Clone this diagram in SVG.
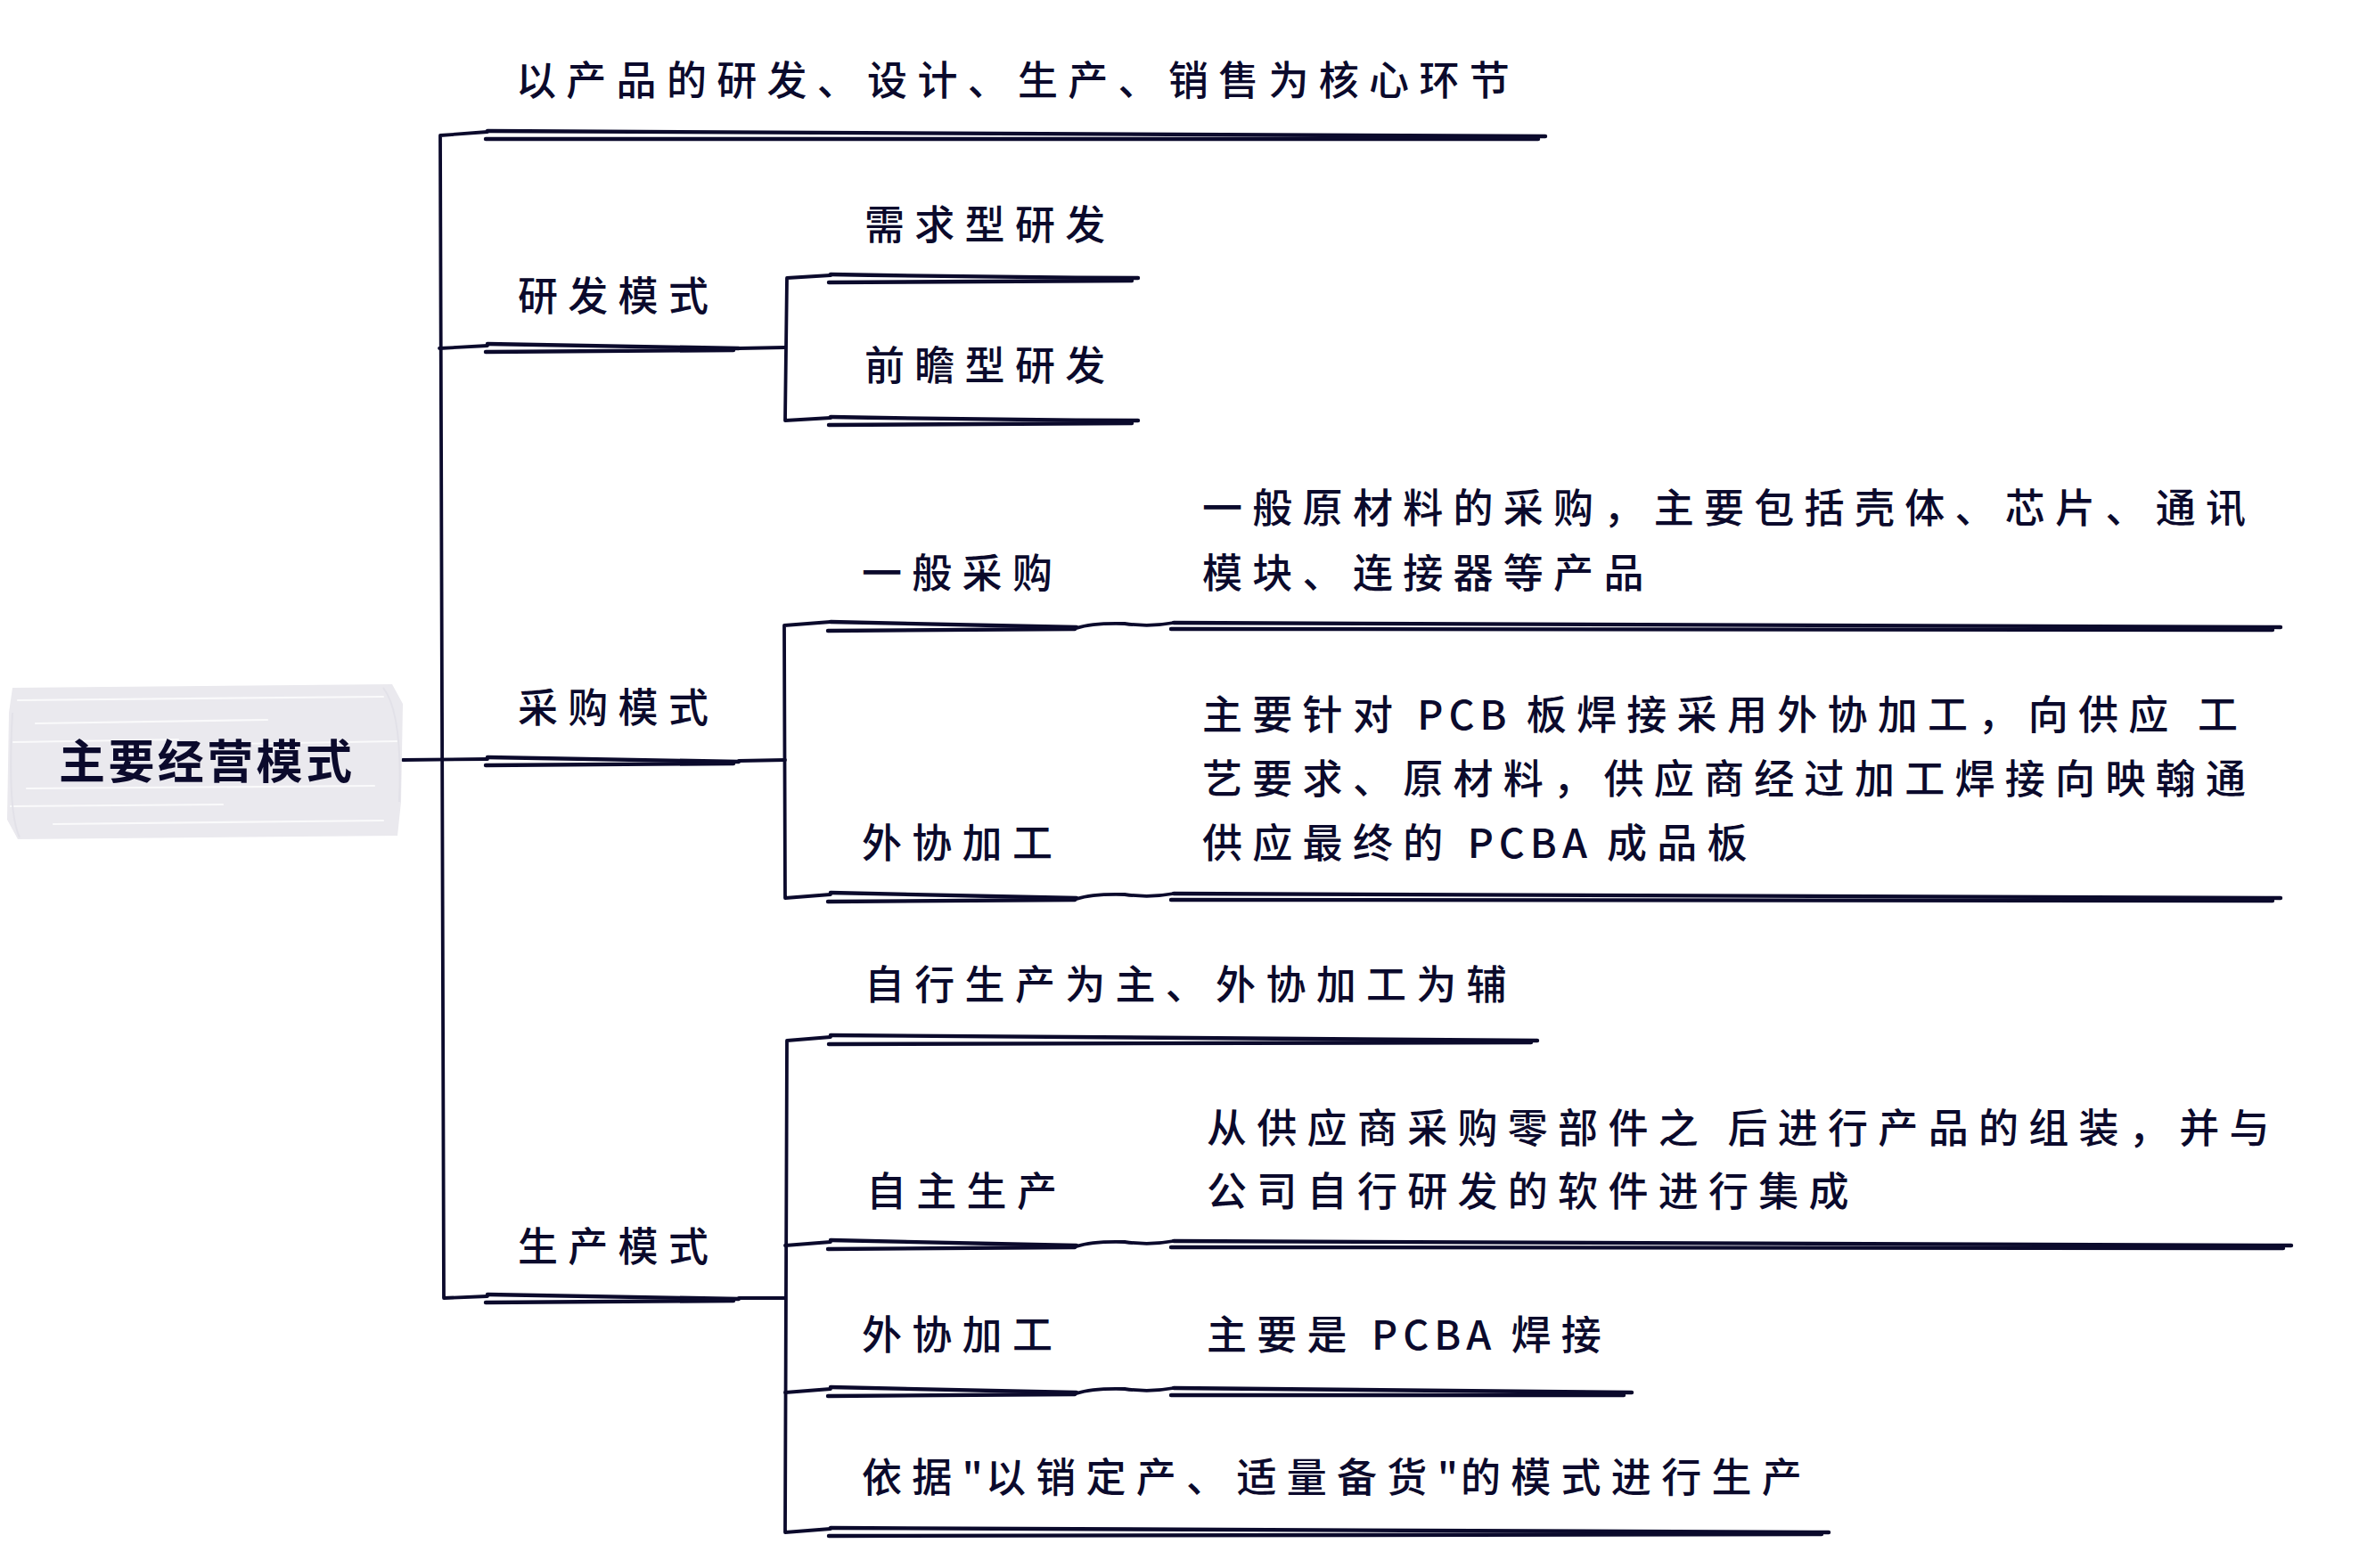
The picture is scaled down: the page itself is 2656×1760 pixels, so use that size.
<svg xmlns="http://www.w3.org/2000/svg" width="2656" height="1760" viewBox="0 0 2656 1760">
<style>
.t{font-family:"Noto Sans CJK SC","Noto Sans",sans-serif;font-size:45px;font-weight:500;fill:#0b0a2c;letter-spacing:11.3px}
.l{letter-spacing:6px}
.q{letter-spacing:3px}
.b{font-family:"Noto Sans CJK SC","Noto Sans",sans-serif;font-size:52px;font-weight:700;fill:#0b0a2c;letter-spacing:3.4px}
.u{stroke:#0b0a2c;stroke-width:4.4;fill:none;stroke-linecap:round;stroke-linejoin:round}
.c{stroke:#0b0a2c;stroke-width:3.8;fill:none;stroke-linecap:round;stroke-linejoin:round}
.s{stroke:#ffffff;stroke-width:2.2;fill:none;stroke-linecap:round;opacity:.75}
</style>
<rect width="2656" height="1760" fill="#ffffff"/>
<g id="connectors">
<path class="c" d="M 547,148 L 494,152 L 496,800 L 498,1457 L 547,1455"/>
<path class="c" d="M 493,391 L 547,388"/>
<path class="c" d="M 829,391 L 881,390"/>
<path class="c" d="M 452,853 L 547,852"/>
<path class="c" d="M 829,854 L 881,853"/>
<path class="c" d="M 829,1457 L 881,1457"/>
<path class="c" d="M 932,309 L 883,312 L 881,472 L 932,469"/>
<path class="c" d="M 932,698 L 880,702 L 881,1008 L 932,1004"/>
<path class="c" d="M 932,1164 L 883,1168 L 881,1720 L 932,1716"/>
<path class="c" d="M 881,1398 L 932,1394"/>
<path class="c" d="M 881,1563 L 932,1559"/>
<path class="c" d="M 1208,705 Q 1226,699 1262,700 Q 1290,704 1317,699"/>
<path class="c" d="M 1208,1009 Q 1226,1003 1262,1004 Q 1290,1008 1317,1003"/>
<path class="c" d="M 1208,1399 Q 1226,1393 1262,1394 Q 1290,1398 1317,1393"/>
<path class="c" d="M 1208,1564 Q 1226,1558 1262,1559 Q 1290,1563 1317,1558"/>
</g>
<g id="node-root">
<path d="M 14,772 L 440,768 L 452,790 L 450,900 L 446,938 L 20,942 L 8,920 L 10,800 Z" fill="#eae9ee"/>
<path class="s" d="M 20,786 L 430,782"/>
<path class="s" d="M 40,812 L 300,808"/>
<path class="s" d="M 15,833 L 200,830"/>
<path class="s" d="M 260,835 L 445,832"/>
<path class="s" d="M 30,885 L 420,882"/>
<path class="s" d="M 12,905 L 250,903"/>
<path class="s" d="M 60,925 L 430,921"/>
<path d="M 430,772 Q 452,800 448,900 M 22,940 Q 8,910 14,800" stroke="#e2e1e8" stroke-width="2" fill="none"/>
<text class="b" x="66" y="874">主要经营模式</text>
</g>
<g id="node-core">
<text class="t" x="579" y="107">以产品的研发、设计、生产、销售为核心环节</text>
<path class="u" d="M 547,147 Q 1100,150 1734,153"/>
<path class="u" d="M 545,156 Q 1100,156 1726,156"/>
</g>
<g id="node-rd">
<text class="t" x="581" y="349">研发模式</text>
<path class="u" d="M 547,386 Q 690,389 829,391"/>
<path class="u" d="M 545,395 Q 690,394 823,393"/>
</g>
<g id="node-rd-1">
<text class="t" x="970" y="269">需求型研发</text>
<path class="u" d="M 932,308 Q 1100,311 1277,312"/>
<path class="u" d="M 930,317 Q 1100,316 1270,315"/>
</g>
<g id="node-rd-2">
<text class="t" x="970" y="427">前瞻型研发</text>
<path class="u" d="M 932,468 Q 1100,471 1277,472"/>
<path class="u" d="M 930,477 Q 1100,476 1270,475"/>
</g>
<g id="node-pur">
<text class="t" x="581" y="811">采购模式</text>
<path class="u" d="M 547,850 Q 690,853 829,855"/>
<path class="u" d="M 545,859 Q 690,858 823,857"/>
</g>
<g id="node-pur-1">
<text class="t" x="967" y="660">一般采购</text>
<path class="u" d="M 932,698 Q 1070,701 1208,704"/>
<path class="u" d="M 929,708 Q 1070,707 1206,706"/>
</g>
<g id="node-pur-1-d">
<text class="t" x="1349" y="587">一般原材料的采购，主要包括壳体、芯片、通讯</text>
<text class="t" x="1349" y="660">模块、连接器等产品</text>
<path class="u" d="M 1317,699 Q 1900,701 2559,704"/>
<path class="u" d="M 1314,706 Q 1900,707 2550,707"/>
</g>
<g id="node-pur-2">
<text class="t" x="967" y="963">外协加工</text>
<path class="u" d="M 932,1002 Q 1070,1005 1208,1008"/>
<path class="u" d="M 929,1012 Q 1070,1011 1206,1010"/>
</g>
<g id="node-pur-2-d">
<text class="t" x="1349" y="819">主要针对<tspan class="l"> PCB </tspan>板焊接采用外协加工，向供应 工</text>
<text class="t" x="1349" y="891">艺要求、原材料，供应商经过加工焊接向映翰通</text>
<text class="t" x="1349" y="963">供应最终的<tspan class="l"> PCBA </tspan>成品板</text>
<path class="u" d="M 1317,1003 Q 1900,1005 2559,1008"/>
<path class="u" d="M 1314,1010 Q 1900,1011 2550,1011"/>
</g>
<g id="node-pro">
<text class="t" x="581" y="1416">生产模式</text>
<path class="u" d="M 547,1453 Q 690,1456 829,1458"/>
<path class="u" d="M 545,1462 Q 690,1461 823,1460"/>
</g>
<g id="node-pro-1">
<text class="t" x="970" y="1122">自行生产为主、外协加工为辅</text>
<path class="u" d="M 932,1162 Q 1300,1165 1725,1168"/>
<path class="u" d="M 930,1172 Q 1300,1171 1718,1170"/>
</g>
<g id="node-pro-2">
<text class="t" x="972" y="1354">自主生产</text>
<path class="u" d="M 932,1392 Q 1070,1395 1208,1398"/>
<path class="u" d="M 929,1402 Q 1070,1401 1206,1400"/>
</g>
<g id="node-pro-2-d">
<text class="t" x="1354" y="1283">从供应商采购零部件之 后进行产品的组装，并与</text>
<text class="t" x="1354" y="1354">公司自行研发的软件进行集成</text>
<path class="u" d="M 1317,1393 Q 1900,1395 2571,1398"/>
<path class="u" d="M 1314,1400 Q 1900,1401 2562,1401"/>
</g>
<g id="node-pro-3">
<text class="t" x="967" y="1515">外协加工</text>
<path class="u" d="M 932,1557 Q 1070,1560 1208,1563"/>
<path class="u" d="M 929,1567 Q 1070,1566 1206,1565"/>
</g>
<g id="node-pro-3-d">
<text class="t" x="1354" y="1515">主要是<tspan class="l"> PCBA </tspan>焊接</text>
<path class="u" d="M 1317,1558 Q 1570,1560 1831,1563"/>
<path class="u" d="M 1314,1566 Q 1570,1566 1822,1566"/>
</g>
<g id="node-pro-4">
<text class="t" x="967" y="1675">依据<tspan class="q">"</tspan>以销定产、适量备货<tspan class="q">"</tspan>的模式进行生产</text>
<path class="u" d="M 932,1715 Q 1480,1718 2052,1720"/>
<path class="u" d="M 930,1724 Q 1480,1723 2044,1722"/>
</g>
</svg>
